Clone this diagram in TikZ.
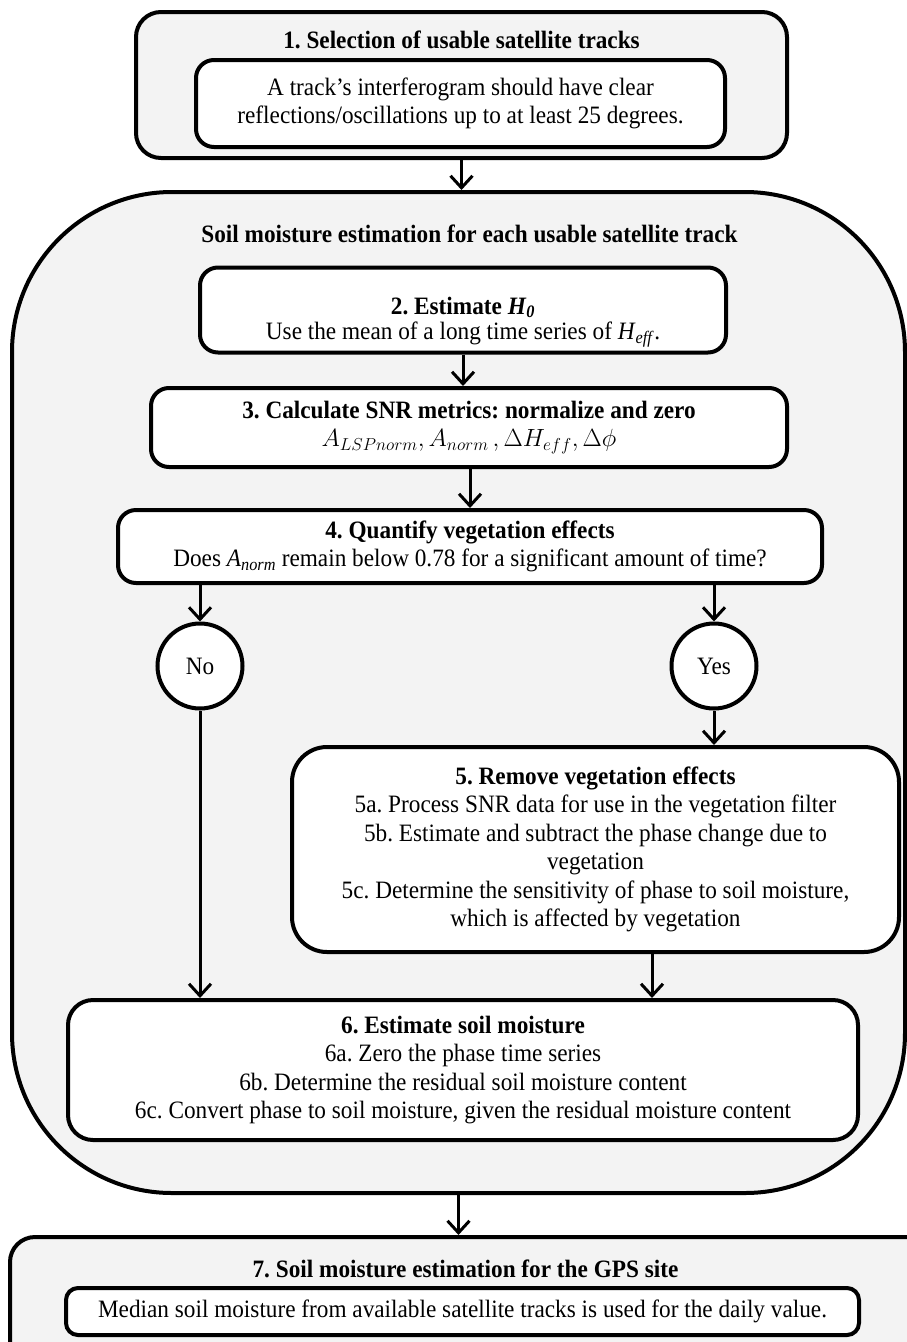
\documentclass[tikz,border=0pt]{standalone}
\usepackage{fontspec}
\setmainfont{Liberation Serif}[FakeStretch=0.93]
\usetikzlibrary{arrows.meta}
\definecolor{bg}{HTML}{F3F3F3}
\frenchspacing
\tikzset{
  fs/.style={font=\fontsize{25}{28.5}\selectfont\frenchspacing},
  wbox/.style={draw, line width=4pt, fill=white, rounded corners=18pt, align=center, inner sep=0pt, fs},
  gbox/.style={draw, line width=4pt, fill=bg, rounded corners=25pt, inner sep=0pt},
  circ/.style={draw, circle, line width=4pt, fill=white, minimum size=85pt, inner sep=0pt, fs},
  arr/.style={line width=3pt, -{Straight Barb[length=12pt,width=22pt,line width=3pt]}},
  ttl/.style={font=\fontsize{25}{28.5}\selectfont\bfseries\frenchspacing, inner sep=0pt},
  txt/.style={fs, align=center, inner sep=0pt}
}
\begin{document}
\begin{tikzpicture}[x=1pt,y=-1pt]
\path[use as bounding box, fill=white] (0,0) rectangle (907,1342);
\clip (0,0) rectangle (907,1342);

% Step 1
\node[gbox, minimum width=651pt, minimum height=146pt] (g1) at (461.5,85) {};
\node[ttl] (t1) at (461.5,40) {1. Selection of usable satellite tracks};
\node[wbox, minimum width=529pt, minimum height=87pt] (b1) at (460.5,103.5)
  {A track’s interferogram should have clear\\reflections/oscillations up to at least 25 degrees.};

% Big container
\node[gbox, rounded corners=160pt, minimum width=893pt, minimum height=1001pt] (big) at (458.5,692.5) {};
\node[ttl] (t2) at (469.5,234) {Soil moisture estimation for each usable satellite track};

% Step 2
\node[wbox, minimum width=526pt, minimum height=85pt] (b2) at (463,310) {};
\node[txt] (b2t) at (463,322)
  {\textbf{2. Estimate \textit{H}\textsubscript{\textit{0}}}\\[-3pt]Use the mean of a long time series of \textit{H}\textsubscript{\textit{eff}}.};

% Step 3
\node[wbox, minimum width=636pt, minimum height=79pt] (b3) at (469,427.5)
  {\textbf{3. Calculate SNR metrics: normalize and zero}\\$A_{LSPnorm}, A_{norm}\,, \Delta H_{eff}, \Delta \phi$};

% Step 4
\node[wbox, minimum width=704pt, minimum height=73pt] (b4) at (470,546.5)
  {\textbf{4. Quantify vegetation effects}\\Does \textit{A}\textsubscript{\textit{norm}} remain below 0.78 for a significant amount of time?};

% Decisions
\node[circ] (no) at (200,666) {No};
\node[circ] (yes) at (714,666) {Yes};

% Step 5
\node[wbox, rounded corners=35pt, minimum width=607pt, minimum height=205pt] (b5) at (595.5,849.5)
  {\textbf{5. Remove vegetation effects}\\5a. Process SNR data for use in the vegetation filter\\5b. Estimate and subtract the phase change due to\\vegetation\\5c. Determine the sensitivity of phase to soil moisture,\\which is affected by vegetation};

% Step 6
\node[wbox, rounded corners=25pt, minimum width=790pt, minimum height=140pt] (b6) at (463,1070)
  {\textbf{6. Estimate soil moisture}\\6a. Zero the phase time series\\6b. Determine the residual soil moisture content\\6c. Convert phase to soil moisture, given the residual moisture content};

% Step 7
\node[gbox, minimum width=920pt, minimum height=133pt] (g7) at (470,1303.5) {};
\node[ttl] (t7) at (465.5,1269) {7. Soil moisture estimation for the GPS site};
\node[wbox, rounded corners=12pt, minimum width=793pt, minimum height=47pt] (b7) at (462.5,1311.5)
  {Median soil moisture from available satellite tracks is used for the daily value.};

% Connectors
\coordinate (c5) at (652,0);
\draw[arr] (g1.south) -- (g1.south |- big.north);
\draw[arr] (b2.south) -- (b2.south |- b3.north);
\draw[arr] (b4.north |- b3.south) -- (b4.north);
\draw[arr] (no |- b4.south) -- (no.north);
\draw[arr] (yes |- b4.south) -- (yes.north);
\draw[arr] (yes.south) -- (yes |- b5.north);
\draw[arr] (no.south) -- (no |- b6.north);
\draw[arr] (c5 |- b5.south) -- (c5 |- b6.north);
\draw[arr] (big.south) -- (big.south |- g7.north);
\end{tikzpicture}
\end{document}
